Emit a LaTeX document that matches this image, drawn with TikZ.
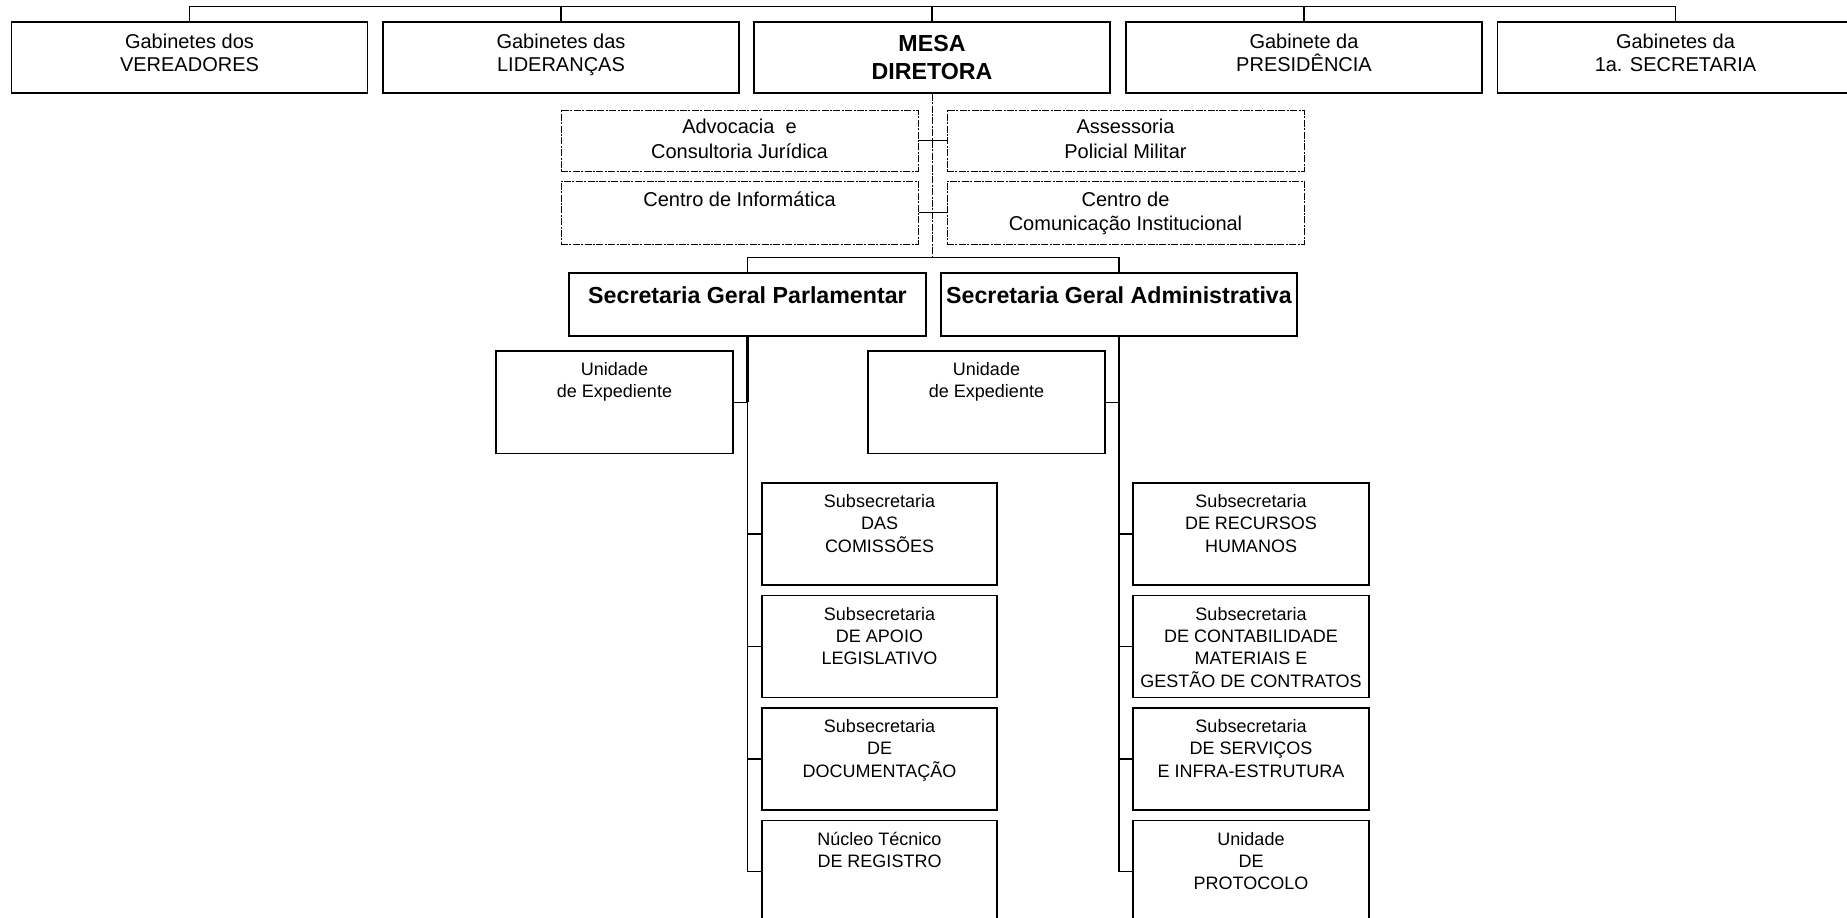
\documentclass[tikz,border=0pt]{standalone}
\usepackage{fontspec}
\setmainfont{Liberation Sans}
\usetikzlibrary{fit}
\begin{document}
\begin{tikzpicture}[x=0.5pt,y=-0.5pt,
  box/.style={draw, line width=0.7pt, inner sep=0pt},
  dbox/.style={draw, line width=0.5pt, dash pattern=on 3.5pt off 0.7pt on 1pt off 0.7pt, inner sep=0pt},
  ln/.style={line width=0.65pt},
  tln/.style={line width=1.1pt},
  dln/.style={line width=0.5pt, dash pattern=on 3.5pt off 0.7pt on 1pt off 0.7pt},
  tx/.style={anchor=base, align=center, inner sep=0pt, font=\fontsize{10}{11.9}\selectfont},
  dtx/.style={anchor=base, align=center, inner sep=0pt, font=\fontsize{10}{12.3}\selectfont},
  btx/.style={anchor=base, align=center, inner sep=0pt, font=\fontsize{11.6}{14}\selectfont\bfseries},
  stx/.style={anchor=base, align=center, inner sep=0pt, font=\fontsize{9}{11.2}\selectfont},
]
\useasboundingbox (0,0) rectangle (1847,917);

% top row
\node[box, fit={(11.5,22) (367.5,93)}] (vere) {};
\node[box, fit={(383,22) (739,93)}] (lider) {};
\node[box, fit={(754,22) (1110,93)}] (mesa) {};
\node[box, fit={(1126,22) (1482,93)}] (presid) {};
\node[box, fit={(1497.5,22) (1853.5,93)}] (secr) {};
\node[tx] (vere-t) at (189.5,71.8) {Gabinetes dos\\VEREADORES};
\node[tx] (lider-t) at (561,71.8) {Gabinetes das\\LIDERANÇAS};
\node[btx] (mesa-t) at (932,79) {MESA\\DIRETORA};
\node[tx] (presid-t) at (1304,71.8) {Gabinete da\\PRESIDÊNCIA};
\node[tx] (secr-t) at (1675.5,71.8) {Gabinetes da\\1a. SECRETARIA};

\draw[ln] (vere.north) -- ++(0,-15) -| (secr.north);
\draw[ln] (lider.north) -- ++(0,-15);
\draw[ln] (mesa.north) -- ++(0,-15);
\draw[ln] (presid.north) -- ++(0,-15);

% advisory (dashed)
\node[dbox, fit={(561,110) (918,171)}] (advo) {};
\node[dbox, fit={(947,110) (1304,171)}] (asses) {};
\node[dbox, fit={(561,181) (918,244)}] (cinf) {};
\node[dbox, fit={(947,181) (1304,244)}] (ccom) {};
\node[dtx] (advo-t) at (739.5,158.1) {Advocacia\ \ e\\Consultoria Jurídica};
\node[dtx] (asses-t) at (1125.5,158.1) {Assessoria\\Policial Militar};
\node[dtx] (cinf-t) at (739.5,206) {Centro de Informática};
\node[dtx] (ccom-t) at (1125.5,230.6) {Centro de\\Comunicação Institucional};

\coordinate (j) at (932,258);
\draw[dln] (mesa.south) -- (j);
\draw[ln, line width=0.6pt] (advo.east) -- (asses.west);
\draw[ln, line width=0.6pt] (cinf.east) -- (ccom.west);

% secretarias
\node[box, fit={(569,273) (926,336)}] (sgp) {};
\node[box, fit={(941,273) (1297,336)}] (sga) {};
\node[btx] (sgp-t) at (747.5,303) {Secretaria Geral Parlamentar};
\node[btx] (sga-t) at (1119,303) {Secretaria Geral Administrativa};
\draw[ln] (sgp.north) -- ++(0,-15) -| (sga.north);

% unidades de expediente
\node[box, fit={(496,351) (733,453.5)}] (ue1) {};
\node[box, fit={(868,351) (1105,453.5)}] (ue2) {};
\node[stx] (ue1-t) at (614.5,397.9) {Unidade\\de Expediente};
\node[stx] (ue2-t) at (986.5,397.9) {Unidade\\de Expediente};

% left column
\node[box, fit={(762,483) (997,585)}] (l1) {};
\node[box, fit={(762,595.5) (997,697.5)}] (l2) {};
\node[box, fit={(762,708) (997,810)}] (l3) {};
\node[box, fit={(762,820.5) (997,922.5)}] (l4) {};
\node[stx] (l1-t) at (879.5,552.3) {Subsecretaria\\DAS\\COMISSÕES};
\node[stx] (l2-t) at (879.5,664.8) {Subsecretaria\\DE APOIO\\LEGISLATIVO};
\node[stx] (l3-t) at (879.5,777.3) {Subsecretaria\\DE\\DOCUMENTAÇÃO};
\node[stx] (l4-t) at (879.5,867.4) {Núcleo Técnico\\DE REGISTRO};

% right column
\node[box, fit={(1133,483) (1369,585)}] (r1) {};
\node[box, fit={(1133,595.5) (1369,697.5)}] (r2) {};
\node[box, fit={(1133,708) (1369,810)}] (r3) {};
\node[box, fit={(1133,820.5) (1369,922.5)}] (r4) {};
\node[stx] (r1-t) at (1251,552.3) {Subsecretaria\\DE RECURSOS\\HUMANOS};
\node[stx] (r2-t) at (1251,687.2) {Subsecretaria\\DE CONTABILIDADE\\MATERIAIS E\\GESTÃO DE CONTRATOS};
\node[stx] (r3-t) at (1251,777.3) {Subsecretaria\\DE SERVIÇOS\\E INFRA-ESTRUTURA};
\node[stx] (r4-t) at (1251,889.8) {Unidade\\DE\\PROTOCOLO};

% trunks
\draw[tln] (sgp.south) -- (sgp.south |- ue1.east);
\draw[tln] (sga.south) -- (sga.south |- ue2.east);
\draw[ln] (sgp.south |- ue1.east) -- (sgp.south |- l4.west);
\draw[ln] (sga.south |- ue2.east) -- (sga.south |- r4.west);
\foreach \n in {ue1} \draw[ln] (\n.east) -- (\n.east -| sgp.south);
\foreach \n in {ue2} \draw[ln] (\n.east) -- (\n.east -| sga.south);
\foreach \n in {l1,l2,l3,l4} \draw[ln] (\n.west) -- (\n.west -| sgp.south);
\foreach \n in {r1,r2,r3,r4} \draw[ln] (\n.west) -- (\n.west -| sga.south);
\end{tikzpicture}
\end{document}
